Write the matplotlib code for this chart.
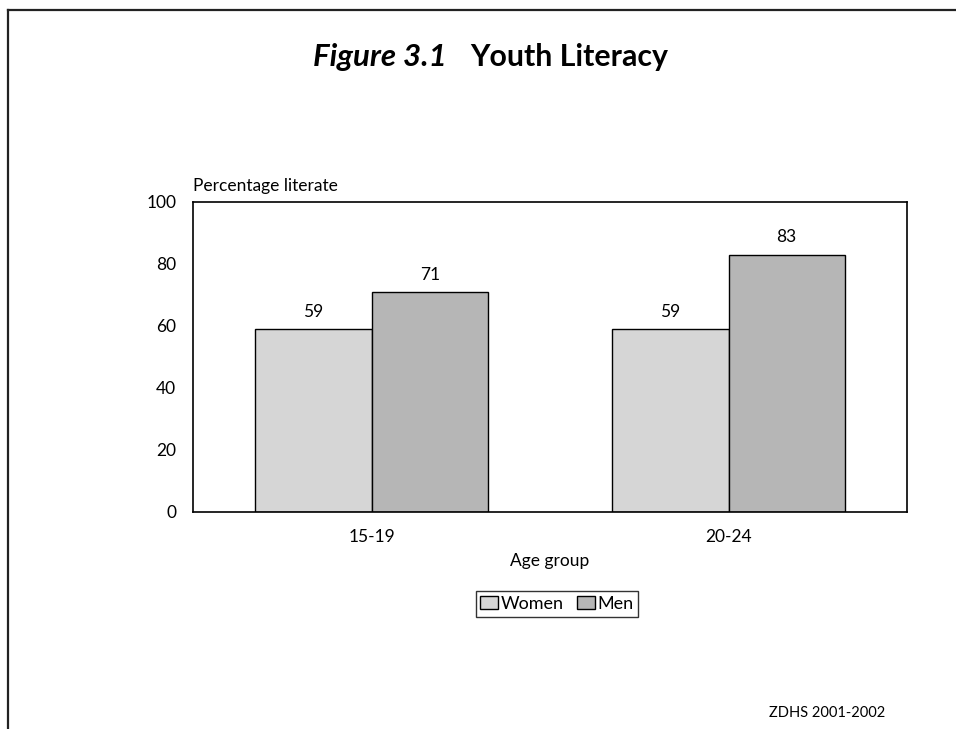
import matplotlib
matplotlib.use("Agg")
import matplotlib.pyplot as plt
from matplotlib.lines import Line2D
import numpy as np

categories = ["15-19", "20-24"]
women = [59, 59]
men = [71, 83]
series_names = ["Women", "Men"]
yticks = [0, 20, 40, 60, 80, 100]

plt.rcParams['font.family'] = ['Lato', 'DejaVu Sans']

W, H = 956, 729
fig = plt.figure(figsize=(W / 100, H / 100), dpi=100)

# axes box: left 193, right 907, top 202, bottom 512 (pixels)
ax = fig.add_axes([193 / W, 1 - 512 / H, (907 - 193) / W, (512 - 202) / H])

x = np.arange(len(categories))
bw = 0.326
b1 = ax.bar(x - bw / 2, women, bw, color="#d6d6d6", edgecolor="black", linewidth=1, label=series_names[0])
b2 = ax.bar(x + bw / 2, men, bw, color="#b6b6b6", edgecolor="black", linewidth=1, label=series_names[1])

for bars, vals in ((b1, women), (b2, men)):
    for r, v in zip(bars, vals):
        ax.text(r.get_x() + r.get_width() / 2, v + 3.0, f"{v}", ha="center", va="bottom", fontsize=12.5)

ax.set_xlim(-0.5, 1.5)
ax.set_ylim(0, 100)
ax.set_yticks(yticks)
ax.set_xticks(x)
ax.set_xticklabels(categories)
ax.tick_params(axis="both", length=0, labelsize=12.5)
ax.tick_params(axis="y", pad=12)
ax.tick_params(axis="x", pad=12)
for s in ax.spines.values():
    s.set_linewidth(1.2)

ax.set_xlabel("Age group", fontsize=12.5, labelpad=6)
fig.text(193 / W, 1 - 186 / H, "Percentage literate", fontsize=12.5, ha="left", va="center")

leg = ax.legend(loc="center", bbox_to_anchor=(557 / W, 1 - 604 / H), bbox_transform=fig.transFigure,
                ncol=2, frameon=True, fancybox=False, edgecolor="black", fontsize=13,
                handlelength=1.0, handleheight=0.75, handletextpad=0.15, columnspacing=0.7,
                borderpad=0.25, borderaxespad=0)
leg.get_frame().set_linewidth(1.0)

fig.text(447 / W, 1 - 57 / H, "Figure 3.1", fontsize=22.5, fontweight="bold", fontstyle="italic",
         ha="right", va="center")
fig.text(470 / W, 1 - 57 / H, "Youth Literacy", fontsize=21.8, fontweight="bold", ha="left", va="center")

fig.text(885 / W, 1 - 713 / H, "ZDHS 2001-2002", fontsize=10.5, ha="right", va="center")

# page border (top and left)
fig.add_artist(Line2D([8 / W, 1.0], [1 - 10 / H, 1 - 10 / H], transform=fig.transFigure, color="#222222", linewidth=1.6))
fig.add_artist(Line2D([8 / W, 8 / W], [1 - 10 / H, 0.0], transform=fig.transFigure, color="#222222", linewidth=1.6))

fig.savefig("out.png", dpi=100)
